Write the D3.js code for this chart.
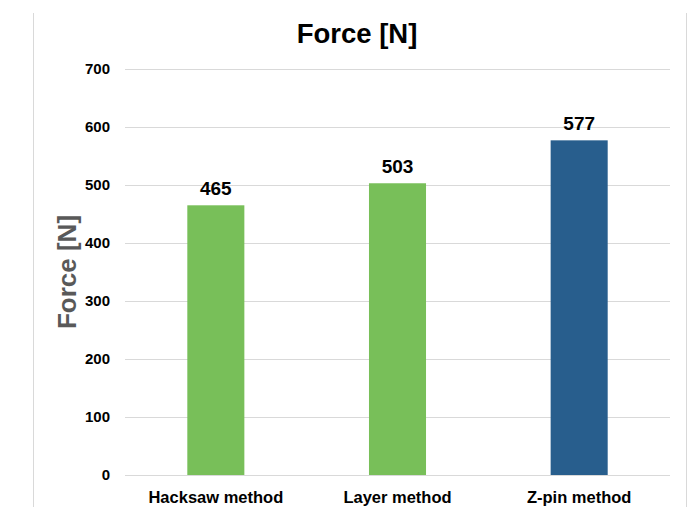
<!DOCTYPE html>
<html><head><meta charset="utf-8">
<script src="https://cdn.jsdelivr.net/npm/d3@7"></script>
<style>body{margin:0;background:#fff;}text{font-family:"Liberation Sans",Arial,sans-serif;}</style>
</head><body><svg id="c" width="693" height="507"></svg>
<script>
const categories = ["Hacksaw method", "Layer method", "Z-pin method"];
const values = [465, 503, 577];
const barColors = ["#78bf59", "#78bf59", "#285e8d"];
const yTicks = [0, 100, 200, 300, 400, 500, 600, 700];
const title = "Force [N]";
const yTitle = "Force [N]";

const svg = d3.select("#c");
svg.append("rect").attr("width",693).attr("height",507).attr("fill","#fff");
svg.append("line").attr("x1",33.5).attr("x2",33.5).attr("y1",13).attr("y2",507).attr("stroke","#d9d9d9");
svg.append("line").attr("x1",686.5).attr("x2",686.5).attr("y1",13).attr("y2",507).attr("stroke","#d9d9d9");

const pL = 125, pR = 670, pT = 69, pB = 475;
const x = d3.scaleBand().domain(categories).range([pL, pR]).padding(0);
const y = d3.scaleLinear().domain([0, 700]).range([pB, pT]);
const barW = x.bandwidth() * 0.314;

const grid = svg.append("g");
grid.selectAll("line").data(yTicks).join("line")
  .attr("x1", pL).attr("x2", pR)
  .attr("y1", d => Math.round(y(d)) + 0.5).attr("y2", d => Math.round(y(d)) + 0.5)
  .attr("stroke", "#d9d9d9").attr("stroke-width", 1);

const yAxis = d3.axisLeft(y).tickValues(yTicks).tickSize(0).tickPadding(0);
const ya = svg.append("g").attr("transform", "translate(110,0)").call(yAxis);
ya.select(".domain").remove();
ya.selectAll("text").attr("font-size", 15).attr("font-weight", "bold").attr("fill", "#000")
  .style("font-family", '"Liberation Sans",Arial,sans-serif');

svg.append("g").selectAll("rect").data(values).join("rect")
  .attr("x", (d, i) => x(categories[i]) + (x.bandwidth() - barW) / 2)
  .attr("width", barW)
  .attr("y", d => y(d))
  .attr("height", d => y(0) - y(d))
  .attr("fill", (d, i) => barColors[i]);

svg.append("line").attr("x1", pL).attr("x2", pR)
  .attr("y1", Math.round(y(0)) + 0.5).attr("y2", Math.round(y(0)) + 0.5).attr("stroke", "#d9d9d9");

svg.append("g").selectAll("text").data(values).join("text")
  .attr("x", (d, i) => x(categories[i]) + x.bandwidth() / 2)
  .attr("y", d => y(d) - 10)
  .attr("text-anchor", "middle").attr("font-size", 19).attr("font-weight", "bold").attr("fill", "#000")
  .text(d => d);

const xAxis = d3.axisBottom(x).tickSize(0).tickPadding(0);
const xa = svg.append("g").attr("transform", `translate(0,${pB})`).call(xAxis);
xa.select(".domain").remove();
xa.selectAll("text").attr("dy", null).attr("y", 28).attr("font-size", 16.5).attr("font-weight", "bold").attr("fill", "#000")
  .style("font-family", '"Liberation Sans",Arial,sans-serif');

svg.append("text").attr("x", 357).attr("y", 43).attr("text-anchor", "middle")
  .attr("font-size", 27.5).attr("font-weight", "bold").attr("fill", "#000").text(title);

svg.append("text").attr("transform", "translate(76,272) rotate(-90)").attr("text-anchor", "middle")
  .attr("font-size", 26).attr("font-weight", "bold").attr("fill", "#595959").text(yTitle);
</script></body></html>
